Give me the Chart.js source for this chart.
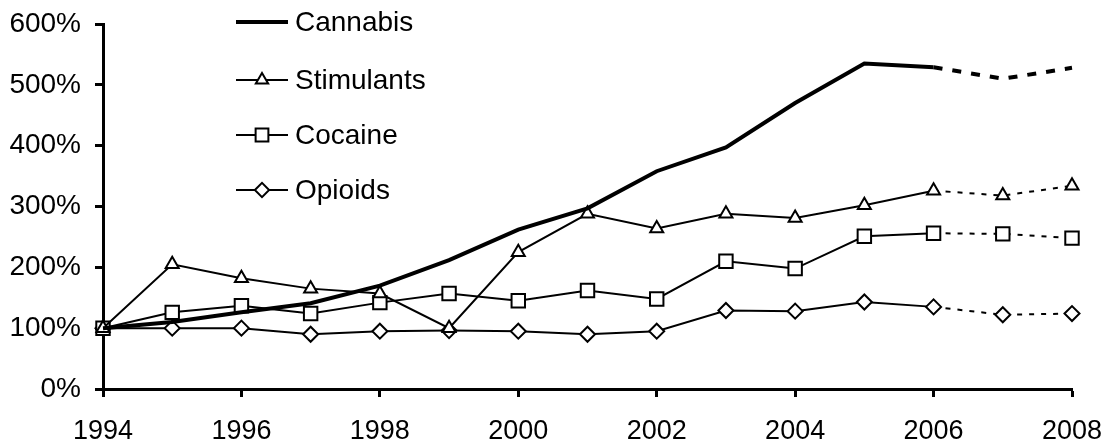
<!DOCTYPE html>
<html>
<head>
<meta charset="utf-8">
<script src="https://cdn.jsdelivr.net/npm/chart.js@4"></script>
<style>
  html, body { margin: 0; padding: 0; background: #fff; }
  #wrap { width: 1106px; height: 444px; }
</style>
</head>
<body>
<div id="wrap"><canvas id="chart-line"></canvas></div>
<script>
// years and index values (1994 = 100%)
const years = [1994, 1995, 1996, 1997, 1998, 1999, 2000, 2001, 2002, 2003, 2004, 2005, 2006, 2007, 2008];
const cannabis   = [100, 110, 126, 141, 170, 212, 262, 297, 358, 397, 470, 535, 529, 510, 528];
const stimulants = [100, 205, 182, 165, 157, 100, 225, 288, 264, 288, 281, 302, 326, 318, 334];
const cocaine    = [100, 126, 137, 124, 142, 157, 145, 162, 148, 210, 198, 251, 256, 255, 248];
const opioids    = [100, 100, 100, 90, 95, 96, 95, 90, 95, 129, 128, 143, 135, 122, 124];
const yTicks = [0, 100, 200, 300, 400, 500, 600];
const xTicks = [1994, 1996, 1998, 2000, 2002, 2004, 2006, 2008];
const projectedFrom = 12; // segments after 2006 are dashed

const seriesNames = ["Cannabis", "Stimulants", "Cocaine", "Opioids"];
const seriesValues = [cannabis, stimulants, cocaine, opioids];
const seriesStyle = [
  { width: 4, point: false, radius: 0, dash: [9, 10] },
  { width: 2, point: "triangle", radius: 7.5, dash: [5, 7] },
  { width: 2, point: "rect", radius: 9.5, dash: [5, 7] },
  { width: 2, point: "rectRot", radius: 7.5, dash: [5, 7] },
];

const fontFamily = "'Liberation Sans', Arial, sans-serif";

function toPoints(values) {
  return values.map((v, i) => ({ x: years[i], y: v }));
}

const datasets = seriesNames.map((name, k) => {
  const st = seriesStyle[k];
  return {
    label: name,
    data: toPoints(seriesValues[k]),
    borderColor: "#000",
    borderWidth: st.width,
    backgroundColor: "#fff",
    pointStyle: st.point,
    pointRadius: st.radius,
    pointBorderWidth: 2,
    pointBorderColor: "#000",
    pointBackgroundColor: "#fff",
    tension: 0,
    fill: false,
    clip: false,
    segment: {
      borderDash: (ctx) => (ctx.p0DataIndex >= projectedFrom ? st.dash : undefined),
    },
  };
});

// legend drawn as line + marker + text, like the original
const lineLegend = {
  id: "lineLegend",
  afterDraw(chart) {
    const ctx = chart.ctx;
    const rowsY = [22, 80, 135, 190];
    ctx.save();
    seriesNames.forEach((name, k) => {
      const st = seriesStyle[k];
      const y = rowsY[k];
      ctx.strokeStyle = "#000";
      ctx.lineWidth = st.width;
      ctx.setLineDash([]);
      ctx.beginPath();
      ctx.moveTo(236, y);
      ctx.lineTo(288, y);
      ctx.stroke();
      if (st.point) {
        ctx.fillStyle = "#fff";
        ctx.lineWidth = 2;
        Chart.helpers.drawPoint(ctx, { pointStyle: st.point, radius: st.radius * 0.95, rotation: 0, borderWidth: 2 }, 262, y);
      }
      ctx.fillStyle = "#000";
      ctx.font = "28px " + fontFamily;
      ctx.textBaseline = "middle";
      ctx.textAlign = "left";
      ctx.fillText(name, 295, y + 1);
    });
    ctx.restore();
  },
};

const ctx = document.getElementById("chart-line").getContext("2d");
const chart = new Chart(ctx, {
  type: "line",
  data: { datasets: datasets },
  plugins: [lineLegend],
  options: {
    responsive: true,
    maintainAspectRatio: false,
    animation: false,
    layout: { padding: { left: 0, right: 34, top: 24, bottom: 0 } },
    plugins: {
      legend: { display: false },
      tooltip: { enabled: false },
    },
    scales: {
      x: {
        type: "linear",
        min: years[0],
        max: years[years.length - 1],
        afterBuildTicks: (scale) => {
          scale.ticks = xTicks.map((v) => ({ value: v }));
        },
        afterFit: (scale) => {
          scale.height = 55;
          scale.paddingRight = 0;
          scale.paddingLeft = 0;
        },
        border: { display: true, color: "#000", width: 3 },
        grid: {
          display: true,
          drawOnChartArea: false,
          drawTicks: true,
          tickLength: 8,
          tickWidth: 3,
          color: "#000",
        },
        ticks: {
          color: "#000",
          font: { size: 27, family: fontFamily },
          padding: 18,
          maxRotation: 0,
          autoSkip: false,
          callback: (v) => String(v),
        },
      },
      y: {
        min: yTicks[0],
        max: yTicks[yTicks.length - 1],
        afterBuildTicks: (scale) => {
          scale.ticks = yTicks.map((v) => ({ value: v }));
        },
        afterFit: (scale) => {
          scale.width = 103;
          scale.paddingTop = 0;
          scale.paddingBottom = 0;
        },
        border: { display: true, color: "#000", width: 3 },
        grid: {
          display: true,
          drawOnChartArea: false,
          drawTicks: true,
          tickLength: 8,
          tickWidth: 3,
          color: "#000",
        },
        ticks: {
          color: "#000",
          font: { size: 28, family: fontFamily },
          padding: 14,
          callback: (v) => v + "%",
        },
      },
    },
  },
});
</script>
</body>
</html>
